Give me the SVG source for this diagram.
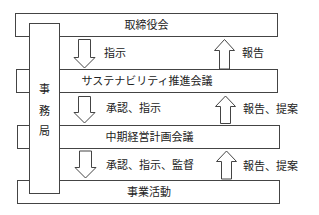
<svg xmlns="http://www.w3.org/2000/svg" width="319" height="215" viewBox="0 0 319 215">
<style>
.box{fill:#fff;stroke:#444;stroke-width:1}
.arr{fill:#fff;stroke:#444;stroke-width:1;stroke-linejoin:miter}
text{font-family:"Noto Sans CJK JP","Noto Sans CJK SC",sans-serif;font-size:11px;fill:#222}
.c{text-anchor:middle}
</style>
<rect width="319" height="215" fill="#fff"/>
<g id="board"><rect class="box" x="15.5" y="13.5" width="262" height="23"/><text class="c" x="146.5" y="29">取締役会</text></g>
<g id="sustainability"><rect class="box" x="16.5" y="69.5" width="261" height="23"/><text class="c" x="147" y="85">サステナビリティ推進会議</text></g>
<g id="midterm"><rect class="box" x="17.5" y="125.5" width="262" height="23"/><text class="c" x="149.5" y="141">中期経営計画会議</text></g>
<g id="business"><rect class="box" x="17.5" y="180.5" width="262" height="23"/><text class="c" x="149" y="196">事業活動</text></g>
<g id="secretariat"><rect class="box" x="29.5" y="23.5" width="30" height="170"/><text class="c" x="44.5" y="93">事</text><text class="c" x="44.5" y="115">務</text><text class="c" x="44.5" y="135">局</text></g>
<g id="connectors">
<polygon class="arr" points="78.5,39.5 90.5,39.5 90.5,57.5 95,57.5 84.5,68 74,57.5 78.5,57.5"/>
<polygon class="arr" points="78.5,96.5 90.5,96.5 90.5,112.5 95,112.5 84.5,123 74,112.5 78.5,112.5"/>
<polygon class="arr" points="79.5,151 91.5,151 91.5,167.5 96,167.5 85.5,178 75,167.5 79.5,167.5"/>
<polygon class="arr" points="219.5,69 229.5,69 229.5,50.5 234.5,50.5 224.5,39.5 214.5,50.5 219.5,50.5"/>
<polygon class="arr" points="220.5,123.5 230.5,123.5 230.5,106.5 235.5,106.5 225.5,96 215.5,106.5 220.5,106.5"/>
<polygon class="arr" points="221.5,179 231.5,179 231.5,161.5 236.5,161.5 226.5,151 216.5,161.5 221.5,161.5"/>
<text x="104" y="57">指示</text>
<text x="106" y="112">承認、指示</text>
<text x="106" y="169">承認、指示、監督</text>
<text x="242" y="57">報告</text>
<text x="243" y="113">報告、提案</text>
<text x="243" y="170">報告、提案</text>
</g>
</svg>
